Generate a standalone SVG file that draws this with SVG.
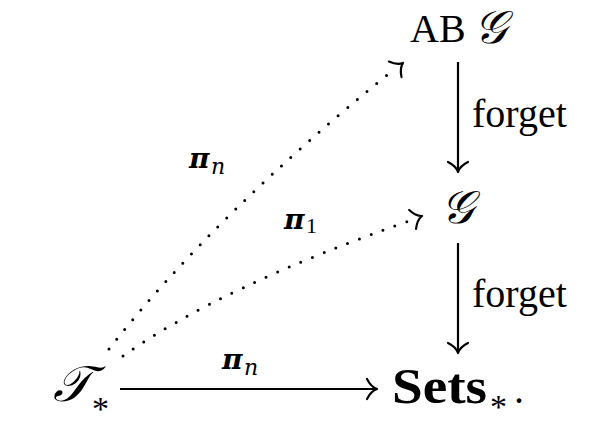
<svg xmlns="http://www.w3.org/2000/svg" xmlns:xlink="http://www.w3.org/1999/xlink" width="606" height="446" viewBox="0 0 606 446">
<style>
.t{font-family:"Liberation Serif","DejaVu Serif",serif;fill:#000}
.cal{font-family:"DejaVu Serif","DejaVu Sans","Noto Sans",serif;font-style:italic;fill:#000}
.mi{font-family:"DejaVu Serif","Liberation Serif",serif;font-style:italic;fill:#000}
.pi{font-family:"DejaVu Serif","Liberation Serif",serif;font-style:italic;font-weight:bold;fill:#000}
.ln{fill:none;stroke:#000;stroke-width:2.2}
.dot{fill:none;stroke:#000;stroke-width:3;stroke-linecap:round;stroke-dasharray:0 12.6}
.hd{fill:none;stroke:#000;stroke-width:2.2;stroke-linecap:round}
</style>
<defs>
<path id="head" class="hd" d="M -10,-10 Q -6,-2 0,0 M -10,10 Q -6,2 0,0"/>
</defs>
<rect width="606" height="446" fill="#fff"/>
<g id="node-abg">
<text class="t" x="410" y="42" font-size="40">AB</text>
<text class="cal" x="474" y="43" font-size="46">𝒢</text>
</g>
<g id="node-g">
<text class="cal" x="441" y="223" font-size="46">𝒢</text>
</g>
<g id="node-t">
<text class="cal" x="53" y="401" font-size="50">𝒯</text>
<text class="t" x="92" y="420" font-size="34">*</text>
</g>
<g id="node-sets">
<text class="t" x="392" y="403" font-size="50" font-weight="bold" textLength="95" lengthAdjust="spacingAndGlyphs">Sets</text>
<text class="t" x="490" y="418" font-size="34">*</text>
<text class="t" x="514" y="403" font-size="40">.</text>
</g>
<g id="connectors">
<line class="ln" x1="458" y1="62" x2="458" y2="171"/>
<use xlink:href="#head" transform="translate(458,172) rotate(90)"/>
<text class="t" x="472" y="127" font-size="40">forget</text>
<line class="ln" x1="458" y1="243" x2="458" y2="352"/>
<use xlink:href="#head" transform="translate(458,353) rotate(90)"/>
<text class="t" x="472" y="307" font-size="40">forget</text>
<line class="ln" x1="120" y1="389" x2="376" y2="389"/>
<use xlink:href="#head" transform="translate(377,389)"/>
<text class="pi" x="222" y="369" font-size="28">π</text>
<text class="mi" x="244" y="375" font-size="22">n</text>
<path class="dot" d="M 109,349 Q 214,215 392,71"/>
<use xlink:href="#head" transform="translate(403,63) rotate(-39)"/>
<text class="pi" x="189" y="168" font-size="28">π</text>
<text class="mi" x="211" y="174" font-size="22">n</text>
<path class="dot" d="M 123,356 Q 222,286 412,220"/>
<use xlink:href="#head" transform="translate(422,216) rotate(-20)"/>
<text class="pi" x="284" y="229" font-size="28">π</text>
<text class="t" x="306" y="233" font-size="22">1</text>
</g>
</svg>
